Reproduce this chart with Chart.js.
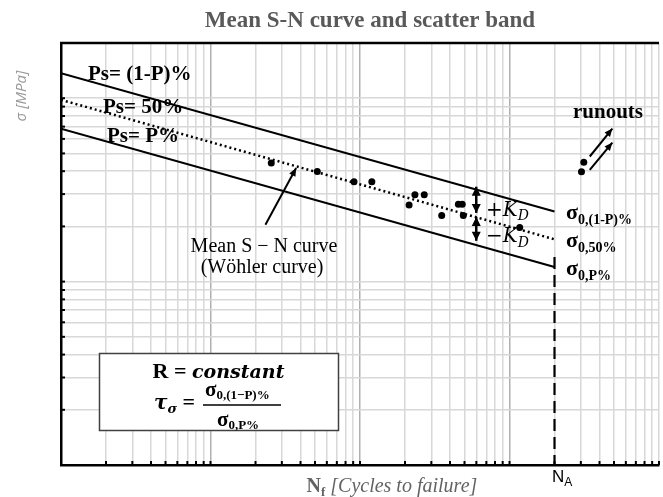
<!DOCTYPE html>
<html><head><meta charset="utf-8">
<script src="https://cdn.jsdelivr.net/npm/chart.js@4/dist/chart.umd.min.js"></script>
<style>html,body{margin:0;padding:0;background:#fff;}canvas{display:block}</style>
</head><body>
<canvas id="c" width="663" height="497"></canvas>
<script>
// ---- data (log N, log sigma) ----
const failN = [25.5, 51.8, 91.2, 120, 213, 233, 269, 352, 455, 483, 491, 1170];
const failS = [44.3, 39.8, 35.0, 35.0, 26.2, 29.8, 29.8, 22.9, 26.4, 26.4, 22.9, 19.7];
const runoutN = [3030, 3140];
const runoutS = [39.7, 44.8];
const bandN = [1, 2000];
const upperS = [137, 24.1];
const meanS = [98, 17.0];
const lowerS = [68.1, 12.0];
const naN = [2000, 2000];
const naS = [13.6, 1];
const xTickValues = [1,2,3,4,5,6,7,8,9,10,20,30,40,50,60,70,80,90,100,200,300,400,500,600,700,800,900,1000,2000,3000,4000,5000,6000,7000,8000,9000,10000];
const yTickValues = [1,2,3,4,5,6,7,8,9,10,20,30,40,50,60,70,80,90,100,200];
const majorX = [10, 100, 1000];

const pts = (xs, ys) => xs.map((v, i) => ({x: v, y: ys[i]}));
const SERIF = "'Liberation Serif','Times New Roman',serif";
const MATH = "'DejaVu Serif',serif";

function arrow(ctx, x1, y1, x2, y2, both, head, hw) {
  head = head || 8; hw = hw || 3.5;
  const draw1 = (ax, ay, bx, by) => {
    const a = Math.atan2(by - ay, bx - ax);
    ctx.beginPath();
    ctx.moveTo(bx, by);
    ctx.lineTo(bx - head * Math.cos(a) + hw * Math.sin(a), by - head * Math.sin(a) - hw * Math.cos(a));
    ctx.lineTo(bx - head * Math.cos(a) - hw * Math.sin(a), by - head * Math.sin(a) + hw * Math.cos(a));
    ctx.closePath();
    ctx.fill();
  };
  ctx.beginPath(); ctx.moveTo(x1, y1); ctx.lineTo(x2, y2); ctx.stroke();
  draw1(x1, y1, x2, y2);
  if (both) draw1(x2, y2, x1, y1);
}
function runs(ctx, x, y, parts, align) {
  let w = 0;
  parts.forEach(p => { ctx.font = p.f; p.w = ctx.measureText(p.t).width; w += p.w; });
  let cx = align === 'center' ? x - w / 2 : x;
  ctx.textAlign = 'left';
  parts.forEach(p => { ctx.font = p.f; ctx.fillText(p.t, cx, y + (p.dy || 0)); cx += p.w; });
}

const annot = {
  id: 'annot',
  afterDraw(chart) {
    const {ctx, chartArea: ca, scales: {x, y}} = chart;
    const P = (n, s) => [x.getPixelForValue(n), y.getPixelForValue(s)];
    ctx.save();
    // frame top + inner tick marks
    ctx.strokeStyle = '#000'; ctx.lineWidth = 2.5;
    ctx.beginPath(); ctx.moveTo(ca.left - 1, ca.top); ctx.lineTo(ca.right, ca.top); ctx.stroke();
    ctx.lineWidth = 2;
    y.ticks.forEach(t => { const py = y.getPixelForValue(t.value); ctx.beginPath(); ctx.moveTo(ca.left, py); ctx.lineTo(ca.left + 4, py); ctx.stroke(); });
    x.ticks.forEach(t => { const px = x.getPixelForValue(t.value); ctx.beginPath(); ctx.moveTo(px, ca.bottom); ctx.lineTo(px, ca.bottom - 4); ctx.stroke(); });

    // title
    ctx.fillStyle = '#595959'; ctx.textBaseline = 'alphabetic'; ctx.textAlign = 'center';
    ctx.font = 'bold 23px ' + SERIF;
    ctx.fillText('Mean S-N curve and scatter band', 370, 26.5);
    // y title
    ctx.save(); ctx.translate(22, 96); ctx.rotate(-Math.PI / 2);
    ctx.fillStyle = '#9a9a9a'; ctx.font = "italic 15px 'Open Sans', sans-serif"; ctx.textBaseline = 'middle';
    ctx.fillText('σ [MPa]', 0, 0); ctx.restore();
    // x title
    ctx.fillStyle = '#636363';
    runs(ctx, 306.5, 491.5, [
      {t: 'N', f: 'bold 20px ' + SERIF},
      {t: 'f', f: 'bold 13px ' + SERIF, dy: 4},
      {t: ' [Cycles to failure]', f: 'italic 20px ' + SERIF}
    ], 'left');

    // band labels
    ctx.fillStyle = '#000'; ctx.textAlign = 'left';
    ctx.font = 'bold 21px ' + SERIF;
    ctx.fillText('Ps= (1-P)%', 88, 80);
    ctx.fillText('Ps= 50%', 103, 113);
    ctx.fillText('Ps= P%', 107, 141.5);
    ctx.fillText('runouts', 573, 118);

    // Mean curve label + arrow
    ctx.font = '20px ' + SERIF; ctx.textAlign = 'center';
    ctx.fillText('Mean S − N curve', 264, 251.5);
    ctx.fillText('(Wöhler curve)', 262, 273);
    ctx.strokeStyle = '#000'; ctx.fillStyle = '#000'; ctx.lineWidth = 2;
    let a = P(23.3, 20.4), b = P(37.4, 41.6);
    arrow(ctx, a[0], a[1], b[0], b[1], false);
    // runout arrows
    a = P(3443, 48.1); b = P(4874, 68.3); arrow(ctx, a[0], a[1], b[0], b[1], false);
    a = P(3443, 40.7); b = P(4874, 57.3); arrow(ctx, a[0], a[1], b[0], b[1], false);
    // K_D arrows
    ctx.lineWidth = 2.5;
    a = P(599, 32.9); b = P(599, 23.7); arrow(ctx, a[0], a[1], b[0], b[1], true, 9, 4.5);
    a = P(599, 22.5); b = P(599, 16.7); arrow(ctx, a[0], a[1], b[0], b[1], true, 9, 4.5);
    runs(ctx, 486, 216, [
      {t: '+', f: '20px ' + MATH},
      {t: 'K', f: 'italic 20px ' + MATH},
      {t: 'D', f: 'italic 14px ' + MATH, dy: 4}
    ], 'left');
    runs(ctx, 486, 242, [
      {t: '−', f: '20px ' + MATH},
      {t: 'K', f: 'italic 20px ' + MATH},
      {t: 'D', f: 'italic 14px ' + MATH, dy: 5}
    ], 'left');

    // sigma labels at N_A
    const sig = (yy, sub) => runs(ctx, 566, yy, [
      {t: 'σ', f: 'bold 22px ' + SERIF},
      {t: sub, f: 'bold 14px ' + SERIF, dy: 5}
    ], 'left');
    sig(219, '0,(1-P)%');
    sig(247, '0,50%');
    sig(275, '0,P%');

    // N_A
    runs(ctx, 552, 482, [
      {t: 'N', f: "17px 'Liberation Sans', sans-serif"},
      {t: 'A', f: "12px 'Liberation Sans', sans-serif", dy: 4}
    ], 'left');

    // box
    ctx.fillStyle = '#fff'; ctx.fillRect(99.5, 353.5, 239, 77);
    ctx.strokeStyle = '#404040'; ctx.lineWidth = 1.5; ctx.strokeRect(99.5, 353.5, 239, 77);
    ctx.fillStyle = '#000';
    runs(ctx, 218.5, 378, [
      {t: 'R = ', f: 'bold 22px ' + SERIF},
      {t: 'constant', f: 'bold italic 19px ' + MATH}
    ], 'center');
    runs(ctx, 154, 409, [
      {t: 'τ', f: 'bold italic 20px ' + MATH},
      {t: 'σ', f: 'bold italic 13px ' + MATH, dy: 4},
      {t: ' = ', f: 'bold 22px ' + SERIF}
    ], 'left');
    runs(ctx, 205, 396, [
      {t: 'σ', f: 'bold 21px ' + SERIF},
      {t: '0,(1−P)%', f: 'bold 13px ' + SERIF, dy: 3}
    ], 'left');
    ctx.strokeStyle = '#000'; ctx.lineWidth = 1.5;
    ctx.beginPath(); ctx.moveTo(203, 405); ctx.lineTo(281, 405); ctx.stroke();
    runs(ctx, 217, 426, [
      {t: 'σ', f: 'bold 21px ' + SERIF},
      {t: '0,P%', f: 'bold 13px ' + SERIF, dy: 3}
    ], 'left');
    ctx.restore();
  }
};

new Chart(document.getElementById('c'), {
  type: 'scatter',
  data: {
    datasets: [
      {data: pts(bandN, upperS), showLine: true, borderColor: '#000', borderWidth: 2, pointRadius: 0},
      {data: pts(bandN, meanS), showLine: true, borderColor: '#000', borderWidth: 2.5, borderDash: [2, 3], pointRadius: 0},
      {data: pts(bandN, lowerS), showLine: true, borderColor: '#000', borderWidth: 2, pointRadius: 0},
      {data: pts(naN, naS), showLine: true, borderColor: '#000', borderWidth: 2.2, borderDash: [12, 6], pointRadius: 0},
      {data: pts(failN, failS), backgroundColor: '#000', borderColor: '#000', pointRadius: 3.5, borderWidth: 0},
      {data: pts(runoutN, runoutS), backgroundColor: '#000', borderColor: '#000', pointRadius: 3.5, borderWidth: 0}
    ]
  },
  options: {
    responsive: false, animation: false, devicePixelRatio: 1,
    layout: {padding: {left: 61, top: 43, right: 0, bottom: 32}},
    plugins: {legend: {display: false}, tooltip: {enabled: false}},
    scales: {
      x: {
        type: 'logarithmic', min: 1, max: 10000,
        afterBuildTicks: s => { s.ticks = xTickValues.map(v => ({value: v})); },
        ticks: {display: false},
        grid: {drawTicks: false, lineWidth: 1.5, color: c => (c.tick && majorX.includes(c.tick.value)) ? '#b0b0b0' : '#d8d8d8'},
        border: {color: '#000', width: 2.5}
      },
      y: {
        type: 'logarithmic', min: 1, max: 200,
        afterBuildTicks: s => { s.ticks = yTickValues.map(v => ({value: v})); },
        ticks: {display: false},
        grid: {drawTicks: false, lineWidth: 1.5, color: '#d8d8d8'},
        border: {color: '#000', width: 2.5}
      }
    }
  },
  plugins: [annot]
});
</script>
</body></html>
